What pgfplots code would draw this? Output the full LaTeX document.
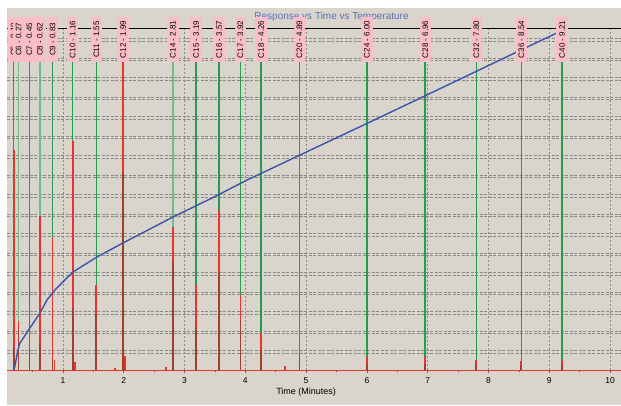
\documentclass[border=0pt]{standalone}
\usepackage{pgfplots}
\pgfplotsset{compat=1.18}
\usepackage{pgfplotstable}
\usepackage{fontspec}
\setmainfont{Liberation Sans}

\definecolor{bgc}{RGB}{217,212,204}
\definecolor{gridc}{RGB}{140,138,135}
\definecolor{pinkc}{RGB}{250,190,200}
\definecolor{greenc}{RGB}{40,155,80}
\definecolor{lgreenc}{RGB}{110,190,135}
\definecolor{redc}{RGB}{232,52,42}
\definecolor{brownc}{RGB}{160,64,44}
\definecolor{bluec}{RGB}{60,84,170}
\definecolor{titlec}{RGB}{95,112,180}

\pgfplotstableread[col sep=comma]{
t,h,b
0.19,220,23
0.27,49,40
0.45,99,21
0.62,154,26
0.83,132,10
0.86,10,0
1.16,229,62
1.20,8,0
1.55,85,55
1.85,2,0
1.99,342,198
2.02,14,0
2.70,3,0
2.81,143,108
3.19,85,42
3.57,160,97
3.92,75,50
4.26,37,20
4.65,4,0
4.89,20,12
6.00,13,6
6.96,13,6
7.80,10,6
8.54,9,5
9.21,10,6
}\peaks

\pgfplotstableread[col sep=comma]{
t,g,y,lab
0.19,320,330.5,C5 - 0.19
0.27,320,330.5,C6 - 0.27
0.45,320,330.5,C7 - 0.45
0.62,320,330.5,C8 - 0.62
0.83,320,330.5,C9 - 0.83
1.16,320,330.5,C10 - 1.16
1.55,320,330.5,C11 - 1.55
1.99,320,330.5,C12 - 1.99
2.81,320,330.5,C14 - 2.81
3.19,320,330.5,C15 - 3.19
3.57,320,330.5,C16 - 3.57
3.92,320,330.5,C17 - 3.92
4.26,320,330.5,C18 - 4.26
4.89,320,330.5,C20 - 4.89
6.00,320,330.5,C24 - 6.00
6.96,320,330.5,C28 - 6.96
7.80,320,330.5,C32 - 7.80
8.54,320,330.5,C36 - 8.54
9.21,320,330.5,C40 - 9.21
}\labels

\pgfplotstableread[col sep=comma]{
t,g
0.27,320
0.62,320
2.81,320
}\lightgreen

\pgfplotstableread[col sep=comma]{
t,temp
0.194,0
0.21,4
0.26,20
0.293,27
0.457,42
0.622,57
0.737,70
0.869,80
1.165,98
1.560,113
1.987,127
2.432,141
2.810,153
3.419,171
3.583,176
4.028,190
4.275,197
4.900,215
6.051,248
6.709,267
7.812,299
8.569,321
9.227,340
}\temps

\begin{document}
\begin{tikzpicture}
\path[use as bounding box] (0,0) rectangle (621pt,405pt);
\fill[white] (0,0) rectangle (621pt,405pt);
\fill[bgc] (7pt,0) rectangle (621pt,397pt);
\clip (7pt,0) rectangle (621pt,397pt);
\begin{axis}[
  at={(7pt,35pt)}, anchor=south west,
  scale only axis, width=614pt, height=342pt,
  xmin=0.08, xmax=10.18, ymin=0, ymax=342,
  clip=false,
  separate axis lines,
  x axis line style={black, line width=0.8pt},
  y axis line style={draw=none},
  xtick={1,2,3,4,5,6,7,8,9,10},
  minor xtick={0.5,1.5,2.5,3.5,4.5,5.5,6.5,7.5,8.5,9.5},
  xtick pos=bottom, tick align=outside,
  major tick length=3pt, minor tick length=2pt,
  xtick style={black!60, line width=0.5pt},
  ytick={19.5,39,58.5,78,97.5,117,136.5,156,175.5,195,214.5,234,253.5,273,292.5,312,331.5},
  yticklabels={},
  ytick style={draw=none},
  extra y ticks={17,36.5,56,75.5,95,114.5,134,153.5,173,192.5,212,231.5,251,270.5,290,309.5,329},
  extra y tick labels={},
  extra y tick style={grid=major, tick style={draw=none}},
  xmajorgrids, ymajorgrids,
  x grid style={gridc, dash pattern=on 2pt off 2pt, line width=0.6pt},
  y grid style={gridc, dash pattern=on 3pt off 1.5pt, line width=0.6pt},
  xticklabel style={font=\fontsize{8.5}{10}\selectfont, yshift=-1pt},
  /pgf/number format/assume math mode=true,
]
% green marker lines
\addplot[ycomb, draw=greenc, line width=1.6pt, mark=none] table[x=t, y=g] {\labels};
\addplot[ycomb, draw=lgreenc, line width=1.6pt, mark=none] table[x=t, y=g] {\lightgreen};
% baseline signal
\addplot[draw=redc, line width=0.5pt, mark=none] coordinates {(0.08,0) (10.18,0)};
% peaks
\addplot[ycomb, draw=redc, line width=1.8pt, mark=none] table[x=t, y=h] {\peaks};
\addplot[ycomb, draw=brownc, line width=1.8pt, mark=none] table[x=t, y=b] {\peaks};
% title
\node[text=titlec, font=\fontsize{10}{12}\selectfont] at (axis cs:5.418,353) {Response vs Time vs Temperature};
% labels
\addplot[draw=none, mark=none,
  nodes near coords, point meta=explicit symbolic,
  nodes near coords style={anchor=center, rotate=90, fill=pinkc, text=black,
    font=\fontsize{8}{9}\selectfont, minimum width=45pt, minimum height=11.5pt,
    inner xsep=1pt, inner ysep=1pt, align=center}]
  table[x=t, y=y, meta=lab] {\labels};
% temperature
\addplot[draw=bluec, line width=1.4pt, mark=none] table[x=t, y=temp] {\temps};
% x label
\node[font=\fontsize{9}{11}\selectfont] at (axis cs:5,0) [yshift=-22pt] {Time (Minutes)};
\end{axis}
\end{tikzpicture}
\end{document}
